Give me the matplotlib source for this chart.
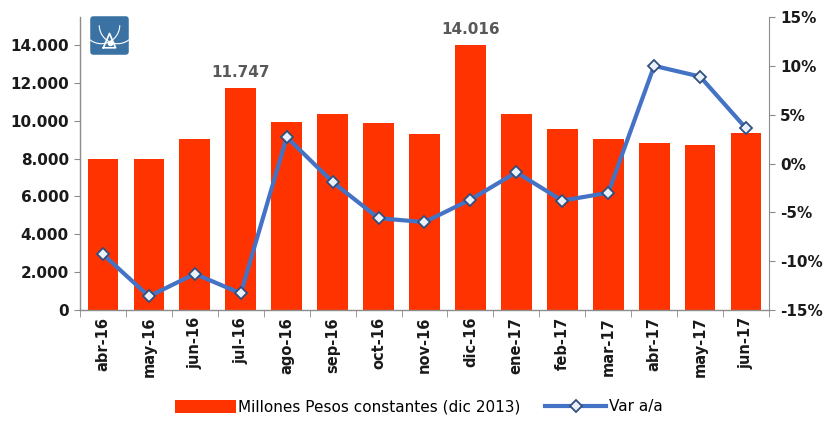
import matplotlib
matplotlib.use("Agg")
import matplotlib.pyplot as plt
import numpy as np
from matplotlib.patches import FancyBboxPatch, Arc
from matplotlib.ticker import FuncFormatter, FixedLocator

categories = ["abr-16", "may-16", "jun-16", "jul-16", "ago-16", "sep-16", "oct-16",
              "nov-16", "dic-16", "ene-17", "feb-17", "mar-17", "abr-17", "may-17", "jun-17"]
millones = [7990, 7990, 9030, 11747, 9910, 10340, 9880, 9300, 14016, 10340, 9550, 9050, 8820, 8735, 9350]
var_aa = [-9.3, -13.6, -11.3, -13.3, 2.7, -1.9, -5.6, -6.0, -3.7, -0.9, -3.8, -3.0, 10.0, 8.9, 3.6]
labeled = {3: "11.747", 8: "14.016"}

plt.rcParams['font.family'] = ['DejaVu Sans']

fig = plt.figure(figsize=(8.24, 4.21), dpi=100)
ax = fig.add_axes([80/824, 1-310/421, (769-80)/824, (310-17)/421])
x = np.arange(len(categories))
bar_color = "#FF3300"
bars = ax.bar(x, millones, width=0.67, color=bar_color, zorder=2,
              label="Millones Pesos constantes (dic 2013)")
ax.set_xlim(-0.5, len(categories) - 0.5)
ax.set_ylim(0, 15480)
ax.set_yticks(np.arange(0, 14001, 2000))
ax.yaxis.set_major_formatter(FuncFormatter(lambda v, p: f"{int(v):,}".replace(",", ".")))
ax.set_xticks(x)
ax.set_xticklabels(categories, rotation=90, fontsize=10.5, fontweight="bold", color="#1a1a1a")
ax.xaxis.set_minor_locator(FixedLocator(np.arange(-0.5, len(categories), 1)))
ax.tick_params(axis="x", which="major", length=0, pad=5)
ax.tick_params(axis="x", which="minor", length=5, color="#8c8c8c", direction="out")
ax.tick_params(axis="y", length=4, color="#8c8c8c", labelsize=11, pad=4)
for lab in ax.get_yticklabels():
    lab.set_fontweight("bold")
    lab.set_color("#1a1a1a")
for s in ["top", "right"]:
    ax.spines[s].set_visible(False)
for s in ["left", "bottom"]:
    ax.spines[s].set_color("#8c8c8c")
    ax.spines[s].set_linewidth(1.0)

for i, txt in labeled.items():
    ax.text(x[i], millones[i] + 400, txt, ha="center", va="bottom", fontsize=11,
            fontweight="bold", color="#595959")

ax2 = ax.twinx()
ax2.set_ylim(-15, 15)
ax2.set_yticks(np.arange(-15, 16, 5))
ax2.yaxis.set_major_formatter(FuncFormatter(lambda v, p: f"{int(round(v))}%"))
line, = ax2.plot(x, var_aa, color="#4472C4", lw=3, marker="D", markersize=6,
                 markerfacecolor="#EAF1FB", markeredgecolor="#2F4F7F", markeredgewidth=1.3,
                 zorder=3, label="Var a/a")
ax2.tick_params(axis="y", length=4, color="#8c8c8c", labelsize=11, pad=4)
for lab in ax2.get_yticklabels():
    lab.set_fontweight("bold")
    lab.set_color("#1a1a1a")
for s in ["top", "left", "bottom"]:
    ax2.spines[s].set_visible(False)
ax2.spines["right"].set_color("#8c8c8c")

# logo
logo_ax = fig.add_axes([89/824, 1-56/421, 41/824, 41/421])
logo_ax.set_xlim(0, 1); logo_ax.set_ylim(0, 1); logo_ax.axis("off")
logo_ax.add_patch(FancyBboxPatch((0.03, 0.03), 0.94, 0.94, boxstyle="round,pad=0,rounding_size=0.08",
                                 fc="#3A73A3", ec="none"))
logo_ax.add_patch(Arc((0.3, 0.75), 0.9, 0.9, theta1=180, theta2=360, color="white", lw=0.8))
logo_ax.add_patch(Arc((0.7, 0.75), 0.9, 0.9, theta1=180, theta2=360, color="white", lw=0.8))
logo_ax.plot([0.35, 0.5, 0.65, 0.35], [0.2, 0.55, 0.2, 0.2], color="white", lw=1.2)
logo_ax.plot([0.5], [0.32], marker="o", color="white", markersize=3)

handles = [bars, line]
fig.legend(handles, [h.get_label() for h in handles], loc="center", bbox_to_anchor=(0.508, 1-407/421),
           ncol=2, frameon=False, fontsize=11, handlelength=4.0, handleheight=0.9,
           columnspacing=1.6, handletextpad=0.15)

fig.savefig("out.png", dpi=100, facecolor="white")
